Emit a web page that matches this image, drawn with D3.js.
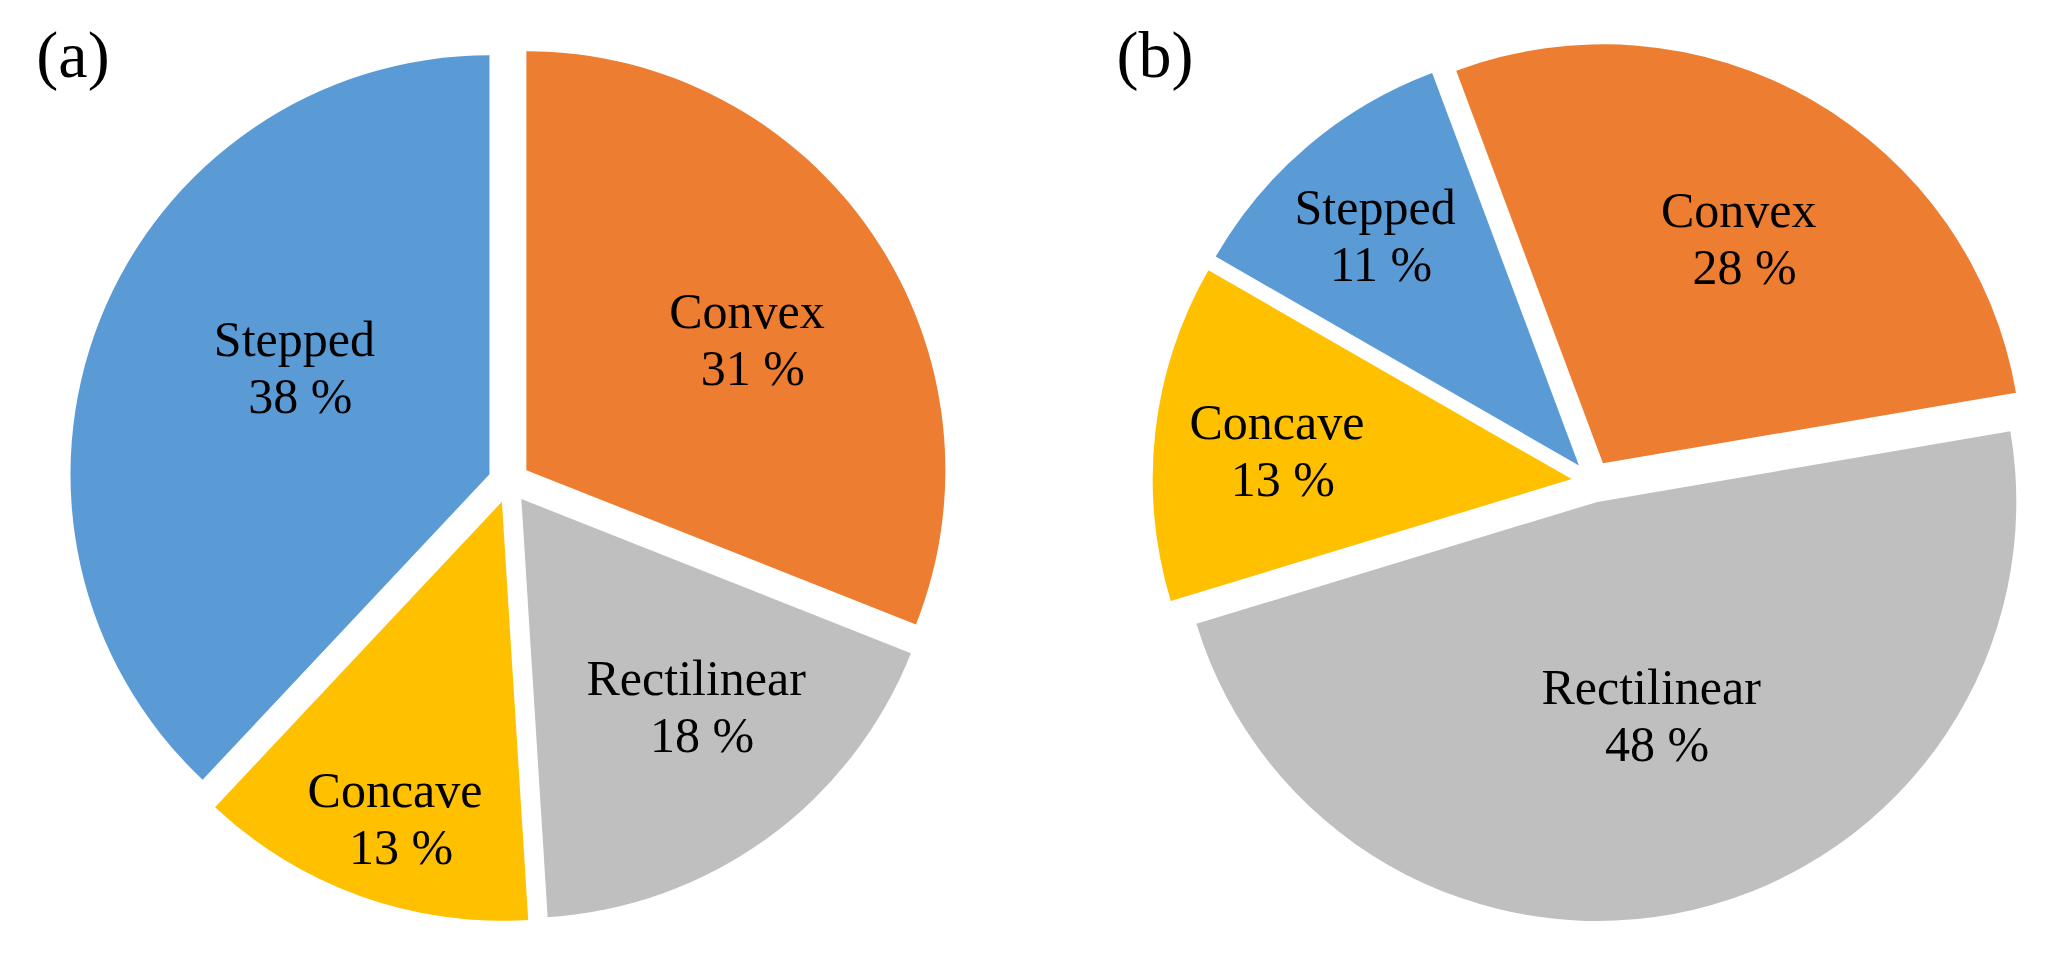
<!DOCTYPE html>
<html>
<head>
<meta charset="utf-8">
<script src="https://cdn.jsdelivr.net/npm/d3@7"></script>
<style>
  html, body { margin: 0; padding: 0; background: #ffffff; }
  svg { display: block; }
  text { font-family: "Liberation Serif", "Times New Roman", serif; fill: #000; }
</style>
</head>
<body>
<svg id="chart" width="2067" height="958"></svg>
<script>
// ---- data ----
const categories = ["Convex", "Rectilinear", "Concave", "Stepped"];
const valuesA = [31, 18, 13, 38];
const valuesB = [28, 48, 13, 11];
const panelLabels = ["(a)", "(b)"];
const colorList = ["#ED7D31", "#BFBFBF", "#FFC000", "#5B9BD5"];

// ---- layout ----
const W = 2067, H = 958;
const radius = 419;
const explode = 21;
const panels = [
  { values: valuesA, cx: 509, cy: 482, startDeg: 0,
    labelPolar: [[59.5, 256], [140, 272], [198.6, 335], [298.5, 222]],
    tag: { x: 73, y: 77 } },
  { values: valuesB, cx: 1592.5, cy: 481.5, startDeg: -20.5,
    labelPolar: [[31.2, 262], [165.9, 221], [275.4, 296], [318.4, 307]],
    tag: { x: 1155, y: 77 } }
];

const svg = d3.select("#chart");
const color = d3.scaleOrdinal().domain(categories).range(colorList);
const arc = d3.arc().innerRadius(0).outerRadius(radius);

panels.forEach((p, pi) => {
  const rows = categories.map((c, i) => ({ cat: c, value: p.values[i], idx: i }));
  const start = p.startDeg * Math.PI / 180;
  const pie = d3.pie().sort(null).value(d => d.value)
    .startAngle(start).endAngle(start + 2 * Math.PI);
  const arcs = pie(rows);
  const g = svg.append("g").attr("transform", `translate(${p.cx},${p.cy})`);

  const slice = g.selectAll("g.slice").data(arcs).join("g")
    .attr("class", "slice")
    .attr("transform", d => {
      const m = (d.startAngle + d.endAngle) / 2;
      return `translate(${explode * Math.sin(m)},${-explode * Math.cos(m)})`;
    });

  slice.append("path")
    .attr("d", arc)
    .attr("fill", d => color(d.data.cat));

  const lab = slice.append("text")
    .attr("text-anchor", "middle")
    .attr("font-size", 50)
    .attr("transform", d => {
      const [ang, dist] = p.labelPolar[d.data.idx];
      const a = ang * Math.PI / 180;
      return `translate(${dist * Math.sin(a)},${-dist * Math.cos(a)})`;
    });
  lab.append("tspan").attr("x", 0).attr("y", -12).text(d => d.data.cat);
  lab.append("tspan").attr("x", 6).attr("y", 45).text(d => d.data.value + " %");

  svg.append("text")
    .attr("x", p.tag.x).attr("y", p.tag.y)
    .attr("text-anchor", "middle")
    .attr("font-size", 66)
    .text(panelLabels[pi]);
});
</script>
</body>
</html>
